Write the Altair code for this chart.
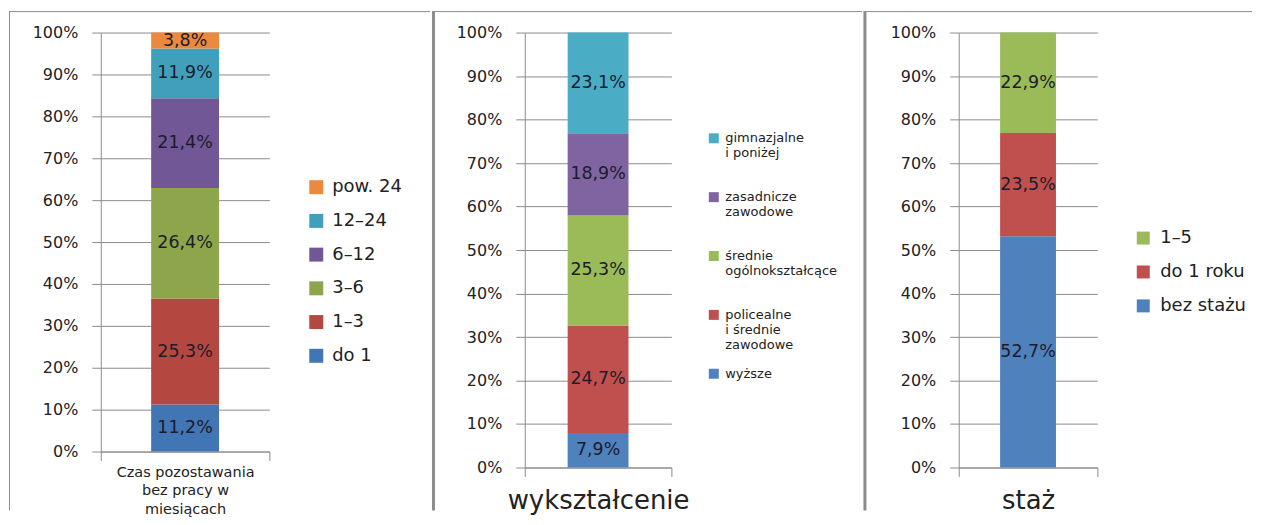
import altair as alt
import pandas as pd

# ---------------- data ----------------
p1_cats = ["do 1", "1–3", "3–6", "6–12", "12–24", "pow. 24"]
p1_vals = [11.2, 25.3, 26.4, 21.4, 11.9, 3.8]
p1_colors = ["#4275B3", "#B4473F", "#8DA64B", "#725796", "#40A0BB", "#EB8A3F"]
p1_axis_label = "Czas pozostawania\nbez pracy w\nmiesiącach"

p2_cats = ["wyższe", "policealne\ni średnie\nzawodowe", "średnie\nogólnokształcące",
           "zasadnicze\nzawodowe", "gimnazjalne\ni poniżej"]
p2_vals = [7.9, 24.7, 25.3, 18.9, 23.1]
p2_colors = ["#4F81BD", "#C0504D", "#9BBB59", "#8064A2", "#4BACC6"]
p2_axis_label = "wykształcenie"

p3_cats = ["bez stażu", "do 1 roku", "1–5"]
p3_vals = [52.7, 23.5, 22.9]
p3_colors = ["#4F81BD", "#C0504D", "#9BBB59"]
p3_axis_label = "staż"

GRAY = "#8c8c8c"
FONT = "DejaVu Sans"
TXT = "#1c1c2c"


def panel(cats, vals, colors, axis_label, width, height, bar_size,
          x_label_size, x_label_pad, legend, frame_left, frame_right, sep_width,
          bottom):
    df = pd.DataFrame({
        "cat": cats,
        "value": vals,
        "order": list(range(len(cats))),
        "grp": [axis_label] * len(cats),
    })
    base = alt.Chart(df).transform_stack(
        stack="value", groupby=["grp"], as_=["y0", "y1"], offset="normalize",
        sort=[alt.SortField("order", order="ascending")],
    ).transform_calculate(
        mid="(datum.y0 + datum.y1) / 2",
        lab="replace(format(datum.value, '.1f'), '.', ',') + '%'",
    )
    x_enc = alt.X(
        "grp:N",
        scale=alt.Scale(paddingInner=0, paddingOuter=0),
        axis=alt.Axis(
            title=None, labelAngle=0, domainColor=GRAY, tickColor=GRAY,
            tickSize=9, tickBand="extent", labelFont=FONT,
            labelFontSize=x_label_size, labelLineHeight=18.5,
            labelPadding=x_label_pad, labelColor="#222", labelLimit=400,
            labelExpr="split(datum.label, '\\n')", grid=False,
        ),
    )
    y_scale = alt.Scale(domain=[0, 1], nice=False)
    bars = base.mark_bar(size=bar_size).encode(
        x=x_enc,
        y=alt.Y(
            "y0:Q", scale=y_scale,
            axis=alt.Axis(
                title=None, format=".0%", tickCount=10, tickSize=9,
                labelPadding=14, domainColor=GRAY, tickColor=GRAY,
                gridColor=GRAY, labelFont=FONT, labelFontSize=16,
                labelColor="#222",
            ),
        ),
        y2="y1:Q",
        color=alt.Color(
            "cat:N",
            scale=alt.Scale(domain=cats[::-1], range=colors[::-1]),
            legend=legend,
        ),
    )
    text = base.mark_text(font=FONT, fontSize=17.5, color=TXT).encode(
        x=alt.X("grp:N"),
        y=alt.Y("mid:Q"),
        text="lab:N",
    )
    frame_src = alt.Chart(alt.Data(values=[{"f": 0}]))
    top_line = frame_src.mark_rule(color=GRAY, strokeWidth=1).encode(
        x=alt.value(frame_left), x2=alt.value(frame_right), y=alt.value(-21))
    left_line = frame_src.mark_rule(color=GRAY, strokeWidth=sep_width).encode(
        x=alt.value(frame_left + sep_width / 2), y=alt.value(-21),
        y2=alt.value(bottom))
    return alt.layer(top_line, left_line, bars, text).properties(
        width=width, height=height)


leg1 = alt.Legend(
    orient="none", legendX=207, legendY=146, title=None, symbolType="square",
    symbolSize=196, symbolStrokeWidth=0, labelFont=FONT, labelFontSize=18,
    labelColor="#222", rowPadding=15.8, labelOffset=7, padding=0,
)
leg2 = alt.Legend(
    orient="none", legendX=183, legendY=93.5, title=None,
    symbolType="M-1,0.2H1V2.2H-1Z", symbolSize=100, symbolStrokeWidth=0,
    labelFont=FONT, labelFontSize=13, labelColor="#222", rowPadding=9,
    labelOffset=5, padding=0, labelBaseline="top",
    labelExpr="slice(split(datum.label + '\\n\\n', '\\n'), 0, 3)",
)
leg3 = alt.Legend(
    orient="none", legendX=176, legendY=197, title=None, symbolType="square",
    symbolSize=169, symbolStrokeWidth=0, labelFont=FONT, labelFontSize=18,
    labelColor="#222", rowPadding=16, labelOffset=8, padding=0,
)

c1 = panel(p1_cats, p1_vals, p1_colors, p1_axis_label, 169, 420, 68, 14.5, 5,
           leg1, -92, 330, 1, 479)
c2 = panel(p2_cats, p2_vals, p2_colors, p2_axis_label, 147, 436, 61, 26, 11,
           leg2, -93, 338, 3, 479)
c3 = panel(p3_cats, p3_vals, p3_colors, p3_axis_label, 139, 436, 56, 26, 11,
           leg3, -95.5, 294, 3, 479)

chart = alt.hconcat(c1, c2, c3, spacing=0).resolve_scale(
    color="independent", x="independent", y="independent"
).resolve_legend(color="independent").properties(
    padding={"left": 0, "top": 1, "right": 0, "bottom": 0}
).configure_view(stroke=None)

chart.save("out.html", embed_options={"renderer": "svg", "actions": False})
